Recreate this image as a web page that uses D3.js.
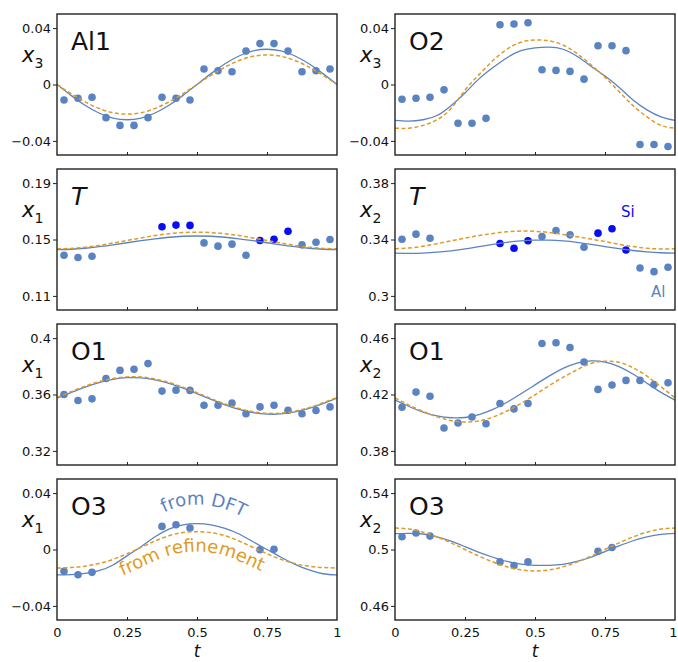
<!DOCTYPE html>
<html>
<head>
<meta charset="utf-8" />
<script src="https://d3js.org/d3.v7.min.js"></script>
<style>
  body { margin: 0; background: #fff; }
  svg { font-family: "DejaVu Sans", sans-serif; }
  .frame { fill: none; stroke: #222; stroke-width: 1.4; }
  .tick line { stroke: #222; }
  .tick text { font-size: 13px; fill: #111; font-family: "DejaVu Sans", sans-serif; }
</style>
</head>
<body>
<div id="chart"></div>
<script>
// sample positions along t
var tPts = [0.025, 0.075, 0.125, 0.175, 0.225, 0.275, 0.325, 0.375, 0.425, 0.475,
            0.525, 0.575, 0.625, 0.675, 0.725, 0.775, 0.825, 0.875, 0.925, 0.975];
var tPtsT = [0.025, 0.075, 0.125, 0.375, 0.425, 0.475, 0.525, 0.575,
             0.625, 0.675, 0.725, 0.775, 0.825, 0.875, 0.925, 0.975];
var tPtsO3 = [0.025, 0.075, 0.125, 0.375, 0.425, 0.475, 0.725, 0.775];
var tCurve = [0, 0.05, 0.1, 0.15, 0.2, 0.25, 0.3, 0.35, 0.4, 0.45, 0.5,
              0.55, 0.6, 0.65, 0.7, 0.75, 0.8, 0.85, 0.9, 0.95, 1];
var xTicks = [0, 0.25, 0.5, 0.75, 1];
var xTickLabels = ["0", "0.25", "0.5", "0.75", "1"];

// Al1, x3
var al1Pts = [-0.011, -0.0098, -0.009, -0.0235, -0.029, -0.029, -0.0235, -0.009, -0.0098, -0.011,
              0.011, 0.0098, 0.009, 0.0237, 0.029, 0.029, 0.0237, 0.009, 0.0098, 0.011];
var al1Dft = [0, -0.0077, -0.0147, -0.0202, -0.0238, -0.025, -0.0238, -0.0202, -0.0147, -0.0077, 0,
              0.0077, 0.0147, 0.0202, 0.0238, 0.025, 0.0238, 0.0202, 0.0147, 0.0077, 0];
var al1Ref = [0, -0.0065, -0.0123, -0.017, -0.02, -0.021, -0.02, -0.017, -0.0123, -0.0065, 0,
              0.0065, 0.0123, 0.017, 0.02, 0.021, 0.02, 0.017, 0.0123, 0.0065, 0];

// O2, x3
var o2Pts = [-0.0105, -0.0098, -0.009, -0.0038, -0.0275, -0.0275, -0.024, 0.0424, 0.0429, 0.0438,
             0.0105, 0.010, 0.0093, 0.0038, 0.0275, 0.0275, 0.024, -0.0426, -0.0426, -0.044];
var o2Dft = [-0.0255, -0.026, -0.025, -0.022, -0.015, -0.006, 0.004, 0.012, 0.019, 0.024, 0.026,
             0.0265, 0.025, 0.02, 0.013, 0.006, -0.002, -0.011, -0.018, -0.023, -0.0255];
var o2Ref = [-0.031, -0.031, -0.029, -0.025, -0.017, -0.004, 0.007, 0.017, 0.025, 0.03, 0.0315,
             0.031, 0.028, 0.022, 0.014, 0.005, -0.005, -0.015, -0.023, -0.029, -0.031];

// T, x1 (Si marked)
var tX1Pts = [0.1388, 0.1372, 0.1381, 0.159, 0.1602, 0.16, 0.1476, 0.1453,
              0.1467, 0.1388, 0.1493, 0.1502, 0.1559, 0.1462, 0.1481, 0.15];
var tX1Si = [0, 0, 0, 1, 1, 1, 0, 0, 0, 0, 1, 1, 1, 0, 0, 0];
var tX1Dft = [0.1429, 0.1431, 0.1438, 0.1449, 0.1462, 0.1477, 0.1492, 0.1505, 0.1516, 0.1523, 0.1525,
              0.1523, 0.1516, 0.1505, 0.1492, 0.1477, 0.1462, 0.1449, 0.1438, 0.1431, 0.1429];
var tX1Ref = [0.1434, 0.1437, 0.1445, 0.1458, 0.1475, 0.1493, 0.1511, 0.1528, 0.1541, 0.1549, 0.1552,
              0.1549, 0.1541, 0.1528, 0.1511, 0.1493, 0.1475, 0.1458, 0.1445, 0.1437, 0.1434];

// T, x2
var tX2Pts = [0.3402, 0.3438, 0.3409, 0.3372, 0.3338, 0.3391, 0.3421, 0.3464,
              0.3433, 0.3345, 0.3445, 0.3476, 0.3326, 0.3198, 0.3172, 0.3203];
var tX2Si = [0, 0, 0, 1, 1, 1, 0, 0, 0, 0, 1, 1, 1, 0, 0, 0];
var tX2Dft = [0.3303, 0.3302, 0.3304, 0.331, 0.332, 0.3333, 0.335, 0.3366, 0.338, 0.339, 0.3395,
              0.3395, 0.339, 0.338, 0.3366, 0.335, 0.3335, 0.3322, 0.3312, 0.3306, 0.3303];
var tX2Ref = [0.3334, 0.334, 0.3352, 0.337, 0.339, 0.341, 0.3428, 0.3443, 0.3455, 0.346, 0.3458,
              0.345, 0.3436, 0.342, 0.3403, 0.3385, 0.3366, 0.335, 0.3338, 0.3333, 0.3334];

// O1, x1
var o1X1Pts = [0.36, 0.3557, 0.3569, 0.3714, 0.3771, 0.3779, 0.3819, 0.3624, 0.3631, 0.3629,
               0.3524, 0.3524, 0.354, 0.3464, 0.3512, 0.3524, 0.3488, 0.3464, 0.3486, 0.3512];
var o1X1Dft = [0.3574, 0.3614, 0.3653, 0.3685, 0.3708, 0.3719, 0.3718, 0.3704, 0.3679, 0.3645, 0.3606,
               0.3566, 0.3527, 0.3495, 0.3472, 0.3461, 0.3462, 0.3476, 0.3501, 0.3535, 0.3574];
var o1X1Ref = [0.358, 0.362, 0.3659, 0.3691, 0.3714, 0.3725, 0.3724, 0.371, 0.3685, 0.3651, 0.3612,
               0.3572, 0.3533, 0.3501, 0.3478, 0.3467, 0.3468, 0.3482, 0.3507, 0.3541, 0.358];

// O1, x2
var o1X2Pts = [0.411, 0.4217, 0.4188, 0.3962, 0.3998, 0.404, 0.3993, 0.4136, 0.4098, 0.4136,
               0.4562, 0.4567, 0.4533, 0.4431, 0.4236, 0.4267, 0.43, 0.43, 0.4271, 0.4283];
var o1X2Dft = [0.416, 0.4115, 0.4075, 0.4048, 0.4035, 0.4037, 0.4058, 0.4095, 0.4145, 0.4205, 0.4268,
               0.433, 0.4385, 0.4423, 0.4438, 0.443, 0.4398, 0.4345, 0.428, 0.4215, 0.416];
var o1X2Ref = [0.4176, 0.4125, 0.408, 0.4042, 0.4015, 0.4005, 0.4013, 0.404, 0.4083, 0.4137, 0.4198,
               0.4262, 0.4322, 0.4375, 0.442, 0.4436, 0.4428, 0.439, 0.433, 0.4255, 0.4176];

// O3, x1
var o3X1Pts = [-0.0155, -0.0179, -0.0162, 0.0164, 0.0176, 0.0152, -0.0002, 0.0002];
var o3X1Dft = [-0.018, -0.0178, -0.017, -0.015, -0.011, -0.0045, 0.002, 0.009, 0.0145, 0.0175, 0.0183,
               0.0175, 0.015, 0.011, 0.0055, 0.0, -0.0055, -0.0105, -0.0145, -0.0172, -0.018];
var o3X1Ref = [-0.0131, -0.0128, -0.0118, -0.01, -0.007, -0.003, 0.0015, 0.006, 0.0098, 0.012, 0.0126,
               0.012, 0.0098, 0.006, 0.0015, -0.003, -0.007, -0.01, -0.0118, -0.0128, -0.0131];

// O3, x2
var o3X2Pts = [0.509, 0.5117, 0.5095, 0.4912, 0.4886, 0.4912, 0.4988, 0.5014];
var o3X2Dft = [0.5112, 0.5115, 0.511, 0.509, 0.506, 0.502, 0.498, 0.4945, 0.4915, 0.4897, 0.4888,
               0.4888, 0.4895, 0.4915, 0.4945, 0.4985, 0.5025, 0.5062, 0.509, 0.5107, 0.5114];
var o3X2Ref = [0.5152, 0.5145, 0.5123, 0.5089, 0.5047, 0.5, 0.4953, 0.4911, 0.4877, 0.4855, 0.4848,
               0.4855, 0.4877, 0.4911, 0.4953, 0.5, 0.5047, 0.5089, 0.5123, 0.5145, 0.5152];

var steel = "#5b83c2";
var bright = "#0a0cf2";
var orange = "#e09a25";

var width = 678, height = 662;
var colX = [57, 395], rowY = [14, 169, 324, 479];
var pw = 280, ph = 141;

var panels = [
  { name: "Al1", sub: "3", col: 0, row: 0, dom: [-0.05, 0.05], ticks: [-0.04, 0, 0.04], tl: ["\u22120.04", "0", "0.04"], t: tPts, pts: al1Pts, dft: al1Dft, ref: al1Ref },
  { name: "O2", sub: "3", col: 1, row: 0, dom: [-0.05, 0.05], ticks: [-0.04, 0, 0.04], tl: ["\u22120.04", "0", "0.04"], t: tPts, pts: o2Pts, dft: o2Dft, ref: o2Ref },
  { name: "T", italic: true, sub: "1", col: 0, row: 1, dom: [0.10, 0.20], ticks: [0.11, 0.15, 0.19], tl: ["0.11", "0.15", "0.19"], t: tPtsT, pts: tX1Pts, si: tX1Si, dft: tX1Dft, ref: tX1Ref },
  { name: "T", italic: true, sub: "2", col: 1, row: 1, dom: [0.29, 0.39], ticks: [0.30, 0.34, 0.38], tl: ["0.3", "0.34", "0.38"], t: tPtsT, pts: tX2Pts, si: tX2Si, dft: tX2Dft, ref: tX2Ref },
  { name: "O1", sub: "1", col: 0, row: 2, dom: [0.31, 0.41], ticks: [0.32, 0.36, 0.40], tl: ["0.32", "0.36", "0.4"], t: tPts, pts: o1X1Pts, dft: o1X1Dft, ref: o1X1Ref },
  { name: "O1", sub: "2", col: 1, row: 2, dom: [0.37, 0.47], ticks: [0.38, 0.42, 0.46], tl: ["0.38", "0.42", "0.46"], t: tPts, pts: o1X2Pts, dft: o1X2Dft, ref: o1X2Ref },
  { name: "O3", sub: "1", col: 0, row: 3, dom: [-0.05, 0.05], ticks: [-0.04, 0, 0.04], tl: ["\u22120.04", "0", "0.04"], t: tPtsO3, pts: o3X1Pts, dft: o3X1Dft, ref: o3X1Ref, notes: true },
  { name: "O3", sub: "2", col: 1, row: 3, dom: [0.45, 0.55], ticks: [0.46, 0.50, 0.54], tl: ["0.46", "0.5", "0.54"], t: tPtsO3, pts: o3X2Pts, dft: o3X2Dft, ref: o3X2Ref }
];

var svg = d3.select("#chart").append("svg")
  .attr("width", width)
  .attr("height", height);

panels.forEach(function (p, i) {
  var x0 = colX[p.col], y0 = rowY[p.row];
  var g = svg.append("g").attr("transform", "translate(" + x0 + "," + y0 + ")");

  var x = d3.scaleLinear().domain([0, 1]).range([0, pw]);
  var y = d3.scaleLinear().domain(p.dom).range([ph, 0]);

  g.append("clipPath").attr("id", "clip" + i)
    .append("rect").attr("width", pw).attr("height", ph);

  // left axis, ticks outward
  var ya = g.append("g")
    .call(d3.axisLeft(y).tickValues(p.ticks).tickSize(4).tickPadding(2)
      .tickFormat(function (d, k) { return p.tl[k]; }));
  ya.select(".domain").remove();

  // bottom ticks pointing inward
  var xa = g.append("g").attr("transform", "translate(0," + ph + ")")
    .call(d3.axisBottom(x).tickValues(xTicks).tickSize(-3).tickPadding(8)
      .tickFormat(function (d, k) { return p.row === 3 ? xTickLabels[k] : ""; }));
  xa.select(".domain").remove();
  xa.selectAll(".tick").filter(function (d) { return d === 0 || d === 1; }).select("line").remove();
  // keep the last "1" inside the page on the right column
  if (p.col === 1) {
    xa.selectAll(".tick").filter(function (d) { return d === 1; }).select("text").attr("dx", -2);
  }

  var plot = g.append("g").attr("clip-path", "url(#clip" + i + ")");

  // points
  plot.selectAll("circle").data(p.pts).join("circle")
    .attr("cx", function (d, k) { return x(p.t[k]); })
    .attr("cy", function (d) { return y(d); })
    .attr("r", 3.8)
    .attr("fill", function (d, k) { return p.si && p.si[k] ? bright : steel; });

  var line = d3.line()
    .x(function (d, k) { return x(tCurve[k]); })
    .y(function (d) { return y(d); })
    .curve(d3.curveNatural);

  plot.append("path").datum(p.dft)
    .attr("d", line).attr("fill", "none")
    .attr("stroke", steel).attr("stroke-width", 1.3);

  plot.append("path").datum(p.ref)
    .attr("d", line).attr("fill", "none")
    .attr("stroke", orange).attr("stroke-width", 1.5)
    .attr("stroke-dasharray", "4,2.5");

  g.append("rect").attr("class", "frame").attr("width", pw).attr("height", ph);

  // panel name
  g.append("text").attr("x", 14).attr("y", 36)
    .attr("font-size", 25).attr("fill", "#111")
    .attr("font-style", p.italic ? "italic" : null)
    .text(p.name);

  // y label x_n
  var yl = g.append("text").attr("x", -35).attr("y", 48).attr("fill", "#111");
  yl.append("tspan").attr("font-size", 21).attr("font-style", "italic").text("x");
  yl.append("tspan").attr("font-size", 14).attr("dy", 6).text(p.sub);

  if (p.row === 3) {
    g.append("text").attr("x", pw / 2).attr("y", 178)
      .attr("text-anchor", "middle").attr("font-size", 17)
      .attr("font-style", "italic").attr("fill", "#111").text("t");
  }

  if (p.si && p.col === 1) {
    g.append("text").attr("x", 226).attr("y", 48)
      .attr("font-size", 15).attr("fill", bright).text("Si");
    g.append("text").attr("x", 256).attr("y", 128)
      .attr("font-size", 15).attr("fill", steel).text("Al");
  }

  if (p.notes) {
    // labels that follow the curves
    var shifted = function (vals, dy, id) {
      var ln = d3.line()
        .x(function (d, k) { return x(tCurve[k]); })
        .y(function (d) { return y(d) + dy; })
        .curve(d3.curveNatural);
      g.append("path").attr("id", id).attr("d", ln(vals)).attr("fill", "none");
    };
    shifted(p.dft, -19, "dftPath");
    shifted(p.ref, 20, "refPath");
    g.append("text").attr("font-size", 18).attr("fill", steel)
      .append("textPath").attr("href", "#dftPath").attr("startOffset", "39%")
      .text("from DFT");
    g.append("text").attr("font-size", 18).attr("fill", orange)
      .append("textPath").attr("href", "#refPath").attr("startOffset", "23%")
      .text("from refinement");
  }
});
</script>
</body>
</html>
